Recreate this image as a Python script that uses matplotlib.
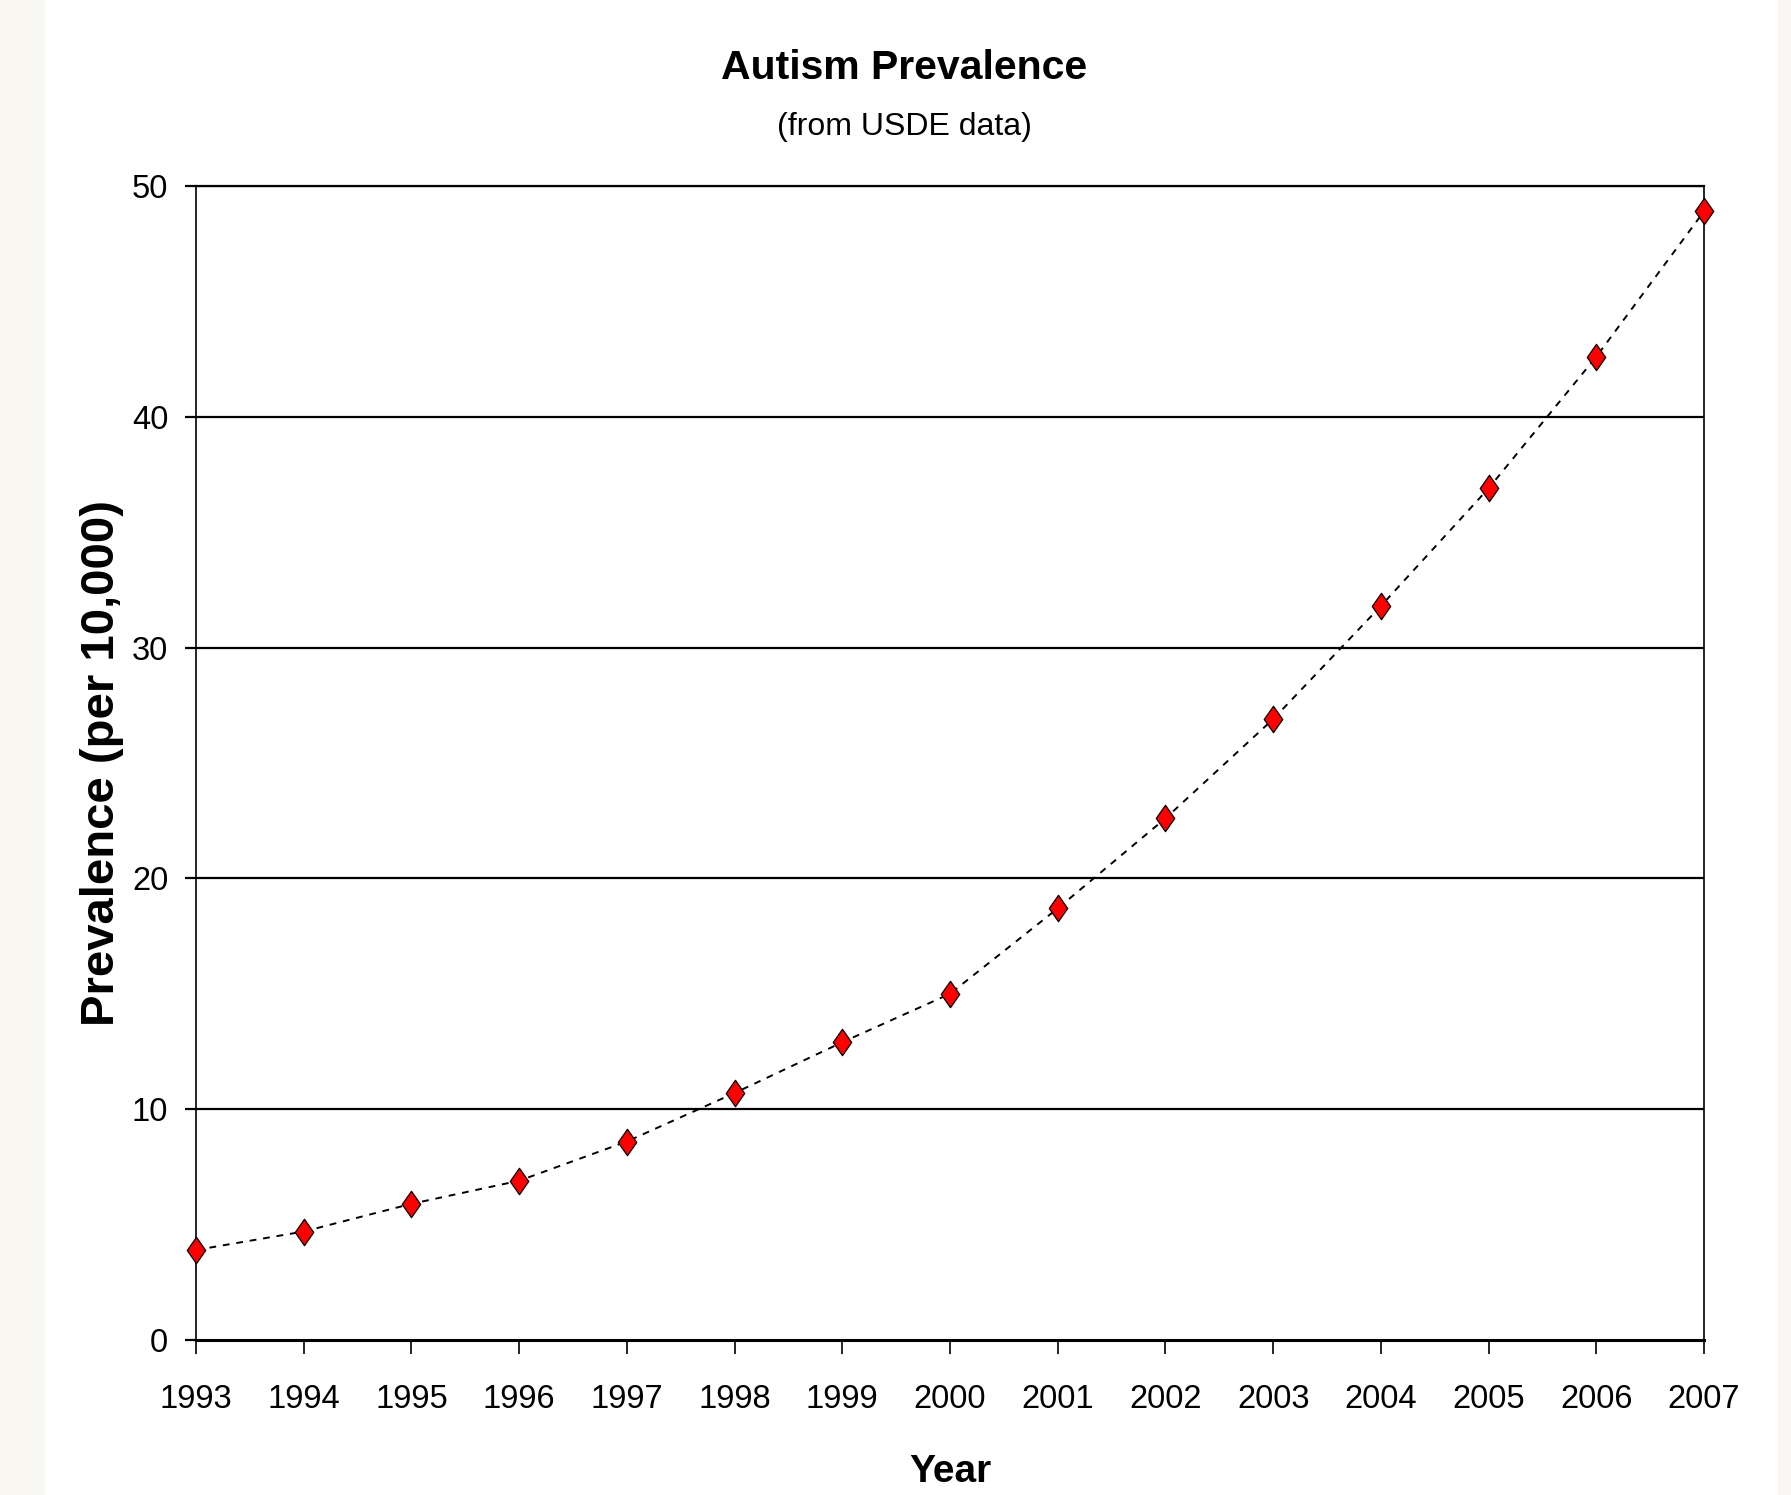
import matplotlib
matplotlib.use("Agg")
import matplotlib.pyplot as plt
from matplotlib.path import Path
from matplotlib.patches import Rectangle

years = [1993, 1994, 1995, 1996, 1997, 1998, 1999, 2000,
         2001, 2002, 2003, 2004, 2005, 2006, 2007]
prevalence = [3.9, 4.7, 5.9, 6.9, 8.6, 10.7, 12.9, 15.0,
              18.7, 22.6, 26.9, 31.8, 36.9, 42.6, 48.9]
y_ticks = [0, 10, 20, 30, 40, 50]

fam = ["Liberation Sans", "DejaVu Sans"]

fig = plt.figure(figsize=(17.91, 14.95), dpi=100)
fig.patch.set_facecolor("#F8F7F2")
fig.patches.append(Rectangle((45 / 1791, 0), (1778 - 45) / 1791, 1,
                             transform=fig.transFigure, facecolor="white",
                             edgecolor="none", zorder=-10))

ax = fig.add_axes([196 / 1791, 1 - 1340 / 1495, (1704 - 196) / 1791, (1340 - 186) / 1495])
ax.set_facecolor("white")

diamond = Path([(0, 1), (0.7, 0), (0, -1), (-0.7, 0), (0, 1)],
               [Path.MOVETO, Path.LINETO, Path.LINETO, Path.LINETO, Path.CLOSEPOLY])

ax.plot(years, prevalence, color="black", linewidth=1.4, linestyle=(0, (3.5, 3.5)),
        marker=diamond, markersize=19, markerfacecolor="#FF0000",
        markeredgecolor="black", markeredgewidth=0.9, zorder=5, clip_on=False)

ax.set_xlim(years[0], years[-1])
ax.set_ylim(0, 50)
ax.set_xticks(years)
ax.set_yticks(y_ticks)

for y in y_ticks[1:]:
    ax.axhline(y, color="black", linewidth=1.6, zorder=1)

for s in ["left", "right"]:
    ax.spines[s].set_linewidth(1.2)
ax.spines["bottom"].set_linewidth(2.2)
ax.spines["top"].set_linewidth(1.6)

ax.tick_params(axis="x", direction="out", length=10, width=1.2, pad=22)
ax.tick_params(axis="y", direction="out", length=8, width=1.6, pad=12)

for lab in ax.get_xticklabels() + ax.get_yticklabels():
    lab.set_fontfamily(fam)
    lab.set_fontsize(23.5)

ax.set_xlabel("Year", fontsize=28, fontweight="bold", family=fam, labelpad=28)
ax.set_ylabel("Prevalence (per 10,000)", fontsize=34, fontweight="bold",
              family=fam, labelpad=6)

fig.text(904 / 1791, 1 - 68 / 1495, "Autism Prevalence", ha="center", va="center",
         fontsize=29.5, fontweight="bold", family=fam)
fig.text(904 / 1791, 1 - 127 / 1495, "(from USDE data)", ha="center", va="center",
         fontsize=23, family=fam)

fig.savefig("out.png", dpi=100, facecolor=fig.get_facecolor())
